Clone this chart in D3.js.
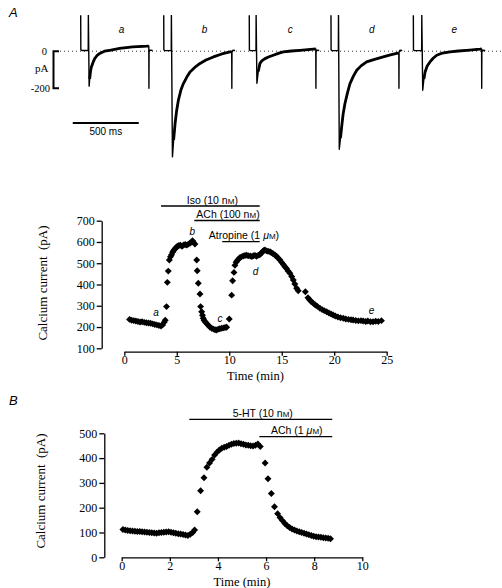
<!DOCTYPE html>
<html><head><meta charset="utf-8">
<script src="https://cdn.jsdelivr.net/npm/d3@7"></script>
<style>
html,body{margin:0;padding:0;background:#fff;}
svg{display:block;}
</style>
</head><body>
<svg id="chart" width="502" height="588"></svg>
<script>
// ---------- DATA ----------
// Panel A (top): current traces a–e, [time within sweep (ms), current (pA)]
const traceLetters = ["a", "b", "c", "d", "e"];
const traceStartsMs = [0, 629, 1277, 1896, 2520];
const trace_a = [[0,194],[1,8],[8,4],[57,4],[58,194],[64,-189],[68,-150],[75,-105],[81,-85],[95,-58],[106,-40],[125,-22],[144,-12],[180,0],[220,5],[295,15],[394,23],[500,27],[516,28],[517,-200],[518,-5],[524,6],[545,4]];
const trace_b = [[0,194],[1,8],[8,3],[57,3],[58,194],[66,-571],[75,-480],[86,-391],[98,-320],[111,-265],[130,-210],[149,-175],[175,-140],[199,-112],[235,-88],[275,-66],[320,-48],[376,-31],[440,-15],[502,-4],[515,-2],[516,-200],[517,-5],[524,5],[540,4]];
const trace_c = [[0,194],[1,8],[8,3],[51,3],[52,194],[58,-173],[68,-110],[81,-66],[95,-52],[119,-40],[150,-30],[182,-22],[220,-12],[258,-4],[320,1],[384,5],[485,11],[504,12],[505,-200],[506,-5],[512,6],[530,4]];
const trace_d = [[0,194],[1,8],[8,3],[56,3],[57,194],[63,-530],[72,-470],[81,-409],[92,-340],[106,-283],[125,-225],[144,-175],[170,-135],[195,-103],[230,-78],[270,-58],[330,-44],[396,-31],[450,-20],[498,-12],[514,-10],[515,-200],[516,-5],[522,5],[540,4]];
const trace_e = [[0,194],[1,8],[8,3],[63,3],[64,194],[71,-211],[80,-150],[89,-112],[105,-80],[126,-58],[150,-38],[177,-22],[220,-10],[278,-4],[340,1],[405,5],[505,11],[517,12],[518,-200],[519,-5],[525,5],[545,4]];
const traces = [trace_a, trace_b, trace_c, trace_d, trace_e];

// Panel A (bottom): time course
const timeA = [0.5,0.7,0.9,1.1,1.3,1.5,1.7,1.9,2.1,2.3,2.5,2.7,2.9,3.1,3.3,3.5,3.65,3.8,3.9,
4.02,4.1,4.19,4.29,4.4,4.5,4.6,4.7,4.8,4.9,5.0,5.1,5.2,5.35,5.5,5.65,5.8,5.95,6.1,6.25,6.4,6.5,6.6,6.73,
6.9,6.95,7.05,7.21,7.27,7.37,7.45,7.52,7.6,7.7,7.85,8.0,8.15,8.32,8.5,8.65,8.8,8.95,9.1,9.28,9.45,9.6,9.75,
10.0,10.23,10.32,10.45,10.54,10.65,10.75,10.86,11.0,11.15,11.33,11.5,11.65,11.8,12.0,12.15,12.3,12.45,12.6,12.76,12.9,13.0,13.1,13.2,13.3,13.4,13.55,13.7,13.88,14.0,14.15,14.35,14.5,14.65,14.83,15.0,15.15,15.3,15.45,15.6,15.78,15.95,16.1,16.25,16.42,16.57,
17.25,17.5,17.65,17.8,18.0,18.2,18.4,18.64,18.85,19.05,19.28,19.5,19.7,19.9,20.1,20.35,20.6,20.86,21.1,21.35,21.6,21.8,22.05,22.3,22.55,22.76,23.0,23.2,23.45,23.7,23.95,24.2,24.5];
const currentA = [236,232,230,228,226,224,225,222,220,219,218,215,212,210,207,205,210,222,232,
296,410,463,515,530,540,552,560,566,572,578,580,583,585,580,586,588,585,590,594,600,606,598,590,
515,465,406,355,296,272,255,241,232,225,217,208,200,194,190,187,186,190,192,194,196,198,199,
238,350,418,457,490,505,512,518,526,530,534,536,538,535,534,531,535,537,533,538,540,545,550,556,560,562,558,556,554,550,546,539,533,525,515,504,494,484,475,464,453,438,421,402,382,371,
366,338,328,320,312,304,297,288,282,277,272,266,261,257,252,247,244,241,238,236,234,233,231,229,230,228,226,228,225,225,227,226,230];
const ticksYA = [100,200,300,400,500,600,700];
const ticksXA = [0,5,10,15,20,25];
const drugNamesA = ["Iso (10 n|M|)", "ACh (100 n|M|)", "Atropine (1 |μ|M|)"];
const drugStartA = [3.5, 6.67, 9.33];
const drugEndA = [12.9, 12.9, 12.9];
const pointLettersA = ["a","b","c","d","e"];
const pointLetterTimeA = [3.02, 6.48, 9.11, 12.51, 23.56];
const pointLetterValA = [267, 651, 238, 460, 277];

// Panel B
const timeB = [0.05,0.15,0.25,0.35,0.45,0.55,0.65,0.75,0.85,0.95,1.05,1.15,1.25,1.35,1.45,1.55,1.65,1.75,1.85,1.95,2.05,2.15,2.25,2.35,2.45,2.55,2.65,2.75,2.85,2.95,3.03,
3.14,3.28,3.42,3.54,3.65,3.76,3.86,3.96,4.06,4.16,4.26,4.36,4.46,4.56,4.66,4.76,4.86,4.96,5.06,5.16,5.26,5.36,5.46,5.56,5.66,5.76,
5.96,6.08,6.22,6.35,6.48,6.58,6.68,6.78,6.88,6.98,7.08,7.18,7.28,7.38,7.48,7.58,7.68,7.78,7.88,7.98,8.08,8.18,8.28,8.38,8.48,8.58,8.68];
const currentB = [112,110,108,107,106,105,104,104,103,102,101,100,99,98,97,99,100,101,102,103,101,99,97,95,94,92,90,88,93,100,110,
184,268,321,363,380,395,412,424,433,440,444,447,452,456,459,460,461,458,456,453,452,450,449,452,457,447,
380,317,257,204,176,160,148,136,127,120,114,110,106,103,100,97,94,91,88,85,83,82,81,79,78,77,75];
const ticksYB = [0,100,200,300,400,500];
const ticksXB = [0,2,4,6,8,10];
const drugNamesB = ["5-HT (10 n|M|)", "ACh (1 |μ|M|)"];
const drugStartB = [2.81, 5.72];
const drugEndB = [8.75, 8.75];

// ---------- DRAWING ----------
const svg = d3.select("#chart");
const SERIF = "'Liberation Serif','Times New Roman',serif";
const SANS = "'Liberation Sans',Arial,Helvetica,sans-serif";

// Panel labels
svg.append("text").attr("x", 9).attr("y", 17).attr("font-family", SANS).attr("font-style", "italic")
  .attr("font-size", 13).text("A");
svg.append("text").attr("x", 9).attr("y", 405).attr("font-family", SANS).attr("font-style", "italic")
  .attr("font-size", 13).text("B");

// ---- Traces ----
const xT = d3.scaleLinear().domain([0, 3200]).range([80.7, 80.7 + 3200 * 0.132]);
const yT = d3.scaleLinear().domain([-600, 200]).range([51.2 + 600 * 0.185, 51.2 - 200 * 0.185]);
svg.append("defs").append("clipPath").attr("id", "clipT")
  .append("rect").attr("x", 0).attr("y", 15).attr("width", 502).attr("height", 160);

// zero dotted line
svg.append("line").attr("x1", 60).attr("x2", 502).attr("y1", yT(0)).attr("y2", yT(0))
  .attr("stroke", "#333").attr("stroke-width", 1).attr("stroke-dasharray", "1,3");

const gT = svg.append("g").attr("clip-path", "url(#clipT)");
const lineT = d3.line().x(d => d[0]).y(d => d[1]);
traces.forEach((tr, i) => {
  const pts = tr.map(d => [xT(traceStartsMs[i] + d[0]), yT(d[1])]);
  gT.append("path").attr("d", lineT(pts)).attr("fill", "none").attr("stroke", "#000")
    .attr("stroke-width", 1.4).attr("stroke-linejoin", "round");
  // noisy (thick) decay part: from peak to end of the test pulse
  let peakIdx = 0;
  tr.forEach((d, k) => { if (d[1] < tr[peakIdx][1] && k < tr.length - 4) peakIdx = k; });
  const decay = tr.slice(peakIdx + 1, tr.length - 4).map(d => [xT(traceStartsMs[i] + d[0]), yT(d[1])]);
  gT.append("path").attr("d", lineT(decay)).attr("fill", "none").attr("stroke", "#000")
    .attr("stroke-width", 2.8).attr("stroke-linejoin", "round");
  svg.append("text").attr("x", xT(traceStartsMs[i] + 310)).attr("y", 32.5)
    .attr("text-anchor", "middle").attr("font-family", SANS).attr("font-style", "italic")
    .attr("font-size", 10).text(traceLetters[i]);
});

// calibration
svg.append("path").attr("d", `M59,${yT(0)}H53.5V${yT(-200)}H59`).attr("fill", "none")
  .attr("stroke", "#000").attr("stroke-width", 2);
svg.append("text").attr("x", 47).attr("y", yT(0) + 3.5).attr("text-anchor", "end")
  .attr("font-family", SERIF).attr("font-size", 10.5).text("0");
svg.append("text").attr("x", 48.5).attr("y", 71.5).attr("text-anchor", "end")
  .attr("font-family", SERIF).attr("font-size", 11).text("pA");
svg.append("text").attr("x", 50).attr("y", yT(-200) + 3.5).attr("text-anchor", "end")
  .attr("font-family", SERIF).attr("font-size", 10.5).text("-200");
svg.append("line").attr("x1", xT(-60)).attr("x2", xT(440)).attr("y1", 123).attr("y2", 123)
  .attr("stroke", "#000").attr("stroke-width", 2);
svg.append("text").attr("x", xT(190)).attr("y", 135).attr("text-anchor", "middle")
  .attr("font-family", SANS).attr("font-size", 10).text("500 ms");

// ---- generic time-course panel ----
function drugLabel(g, x, y, spec) {
  const parts = spec.split("|");
  const t = g.append("text").attr("x", x).attr("y", y).attr("text-anchor", "middle")
    .attr("font-family", SANS).attr("font-size", 10.5);
  parts.forEach((p, k) => {
    if (!p) return;
    const ts = t.append("tspan").text(p);
    if (p === "M") ts.attr("font-size", 8);
    if (p === "μ") ts.attr("font-style", "italic");
  });
}

function panel(opt) {
  const x = d3.scaleLinear().domain(opt.xDom).range(opt.xRange);
  const y = d3.scaleLinear().domain(opt.yDom).range(opt.yRange);
  const g = svg.append("g");
  const ay = g.append("g").attr("transform", `translate(${opt.yAxisX},0)`)
    .call(d3.axisLeft(y).tickValues(opt.yTicks).tickSize(5).tickSizeOuter(0).tickPadding(2).tickFormat(d3.format("d")));
  const ax = g.append("g").attr("transform", `translate(0,${opt.xAxisY})`)
    .call(d3.axisBottom(x).tickValues(opt.xTicks).tickSize(4).tickSizeOuter(0).tickPadding(0).tickFormat(d3.format("d")));
  [ay, ax].forEach(a => {
    a.attr("font-family", SERIF).attr("font-size", 12);
    a.selectAll("path,line").attr("stroke", "#000").attr("stroke-width", 1.3);
    a.selectAll("text").attr("font-family", SERIF).attr("font-size", 12).attr("fill", "#000");
  });
  g.append("text").attr("transform", `translate(${opt.yLabelX},${opt.yLabelY}) rotate(-90)`)
    .attr("text-anchor", "middle").attr("font-family", SERIF).attr("font-size", 13)
    .attr("xml:space", "preserve").text("Calcium current  (pA)");
  g.append("text").attr("x", (opt.xRange[0] + opt.xRange[1]) / 2).attr("y", opt.xLabelY)
    .attr("text-anchor", "middle").attr("font-family", SERIF).attr("font-size", 12.5).text("Time (min)");
  // drug bars
  opt.drugs.forEach((name, k) => {
    const x0 = x(opt.dStart[k]), x1 = x(opt.dEnd[k]);
    g.append("line").attr("x1", x0).attr("x2", x1).attr("y1", opt.barY[k]).attr("y2", opt.barY[k])
      .attr("stroke", "#000").attr("stroke-width", 1.3);
    drugLabel(g, (x0 + x1) / 2 + opt.textShift[k], opt.barY[k] - 2.5, name);
  });
  // points
  const sym = d3.symbol().type(d3.symbolSquare).size(24);
  g.append("g").selectAll("path").data(opt.t.map((t, i) => [t, opt.v[i]])).join("path")
    .attr("d", sym).attr("fill", "#000")
    .attr("transform", d => `translate(${x(d[0])},${y(d[1])}) rotate(45)`);
  return { x, y, g };
}

const pA = panel({
  xDom: [0, 25], xRange: [124.3, 386.7], yDom: [100, 700], yRange: [348.3, 220.7],
  yAxisX: 101.7, xAxisY: 351.7, yTicks: ticksYA, xTicks: ticksXA,
  yLabelX: 47, yLabelY: 283, xLabelY: 380,
  drugs: drugNamesA, dStart: drugStartA, dEnd: drugEndA, barY: [206, 220.5, 241.7], textShift: [2, 1, 3],
  t: timeA, v: currentA
});
pointLettersA.forEach((l, i) => {
  pA.g.append("text").attr("x", pA.x(pointLetterTimeA[i])).attr("y", pA.y(pointLetterValA[i]) + 3.5)
    .attr("text-anchor", "middle").attr("font-family", SANS).attr("font-style", "italic")
    .attr("font-size", 10).text(l);
});

panel({
  xDom: [0, 10], xRange: [121.7, 362.3], yDom: [0, 500], yRange: [557.3, 433.3],
  yAxisX: 104.3, xAxisY: 557.3, yTicks: ticksYB, xTicks: ticksXB,
  yLabelX: 45, yLabelY: 491, xLabelY: 585.5,
  drugs: drugNamesB, dStart: drugStartB, dEnd: drugEndB, barY: [419.3, 436.7], textShift: [2, 1],
  t: timeB, v: currentB
});
</script>
</body></html>
